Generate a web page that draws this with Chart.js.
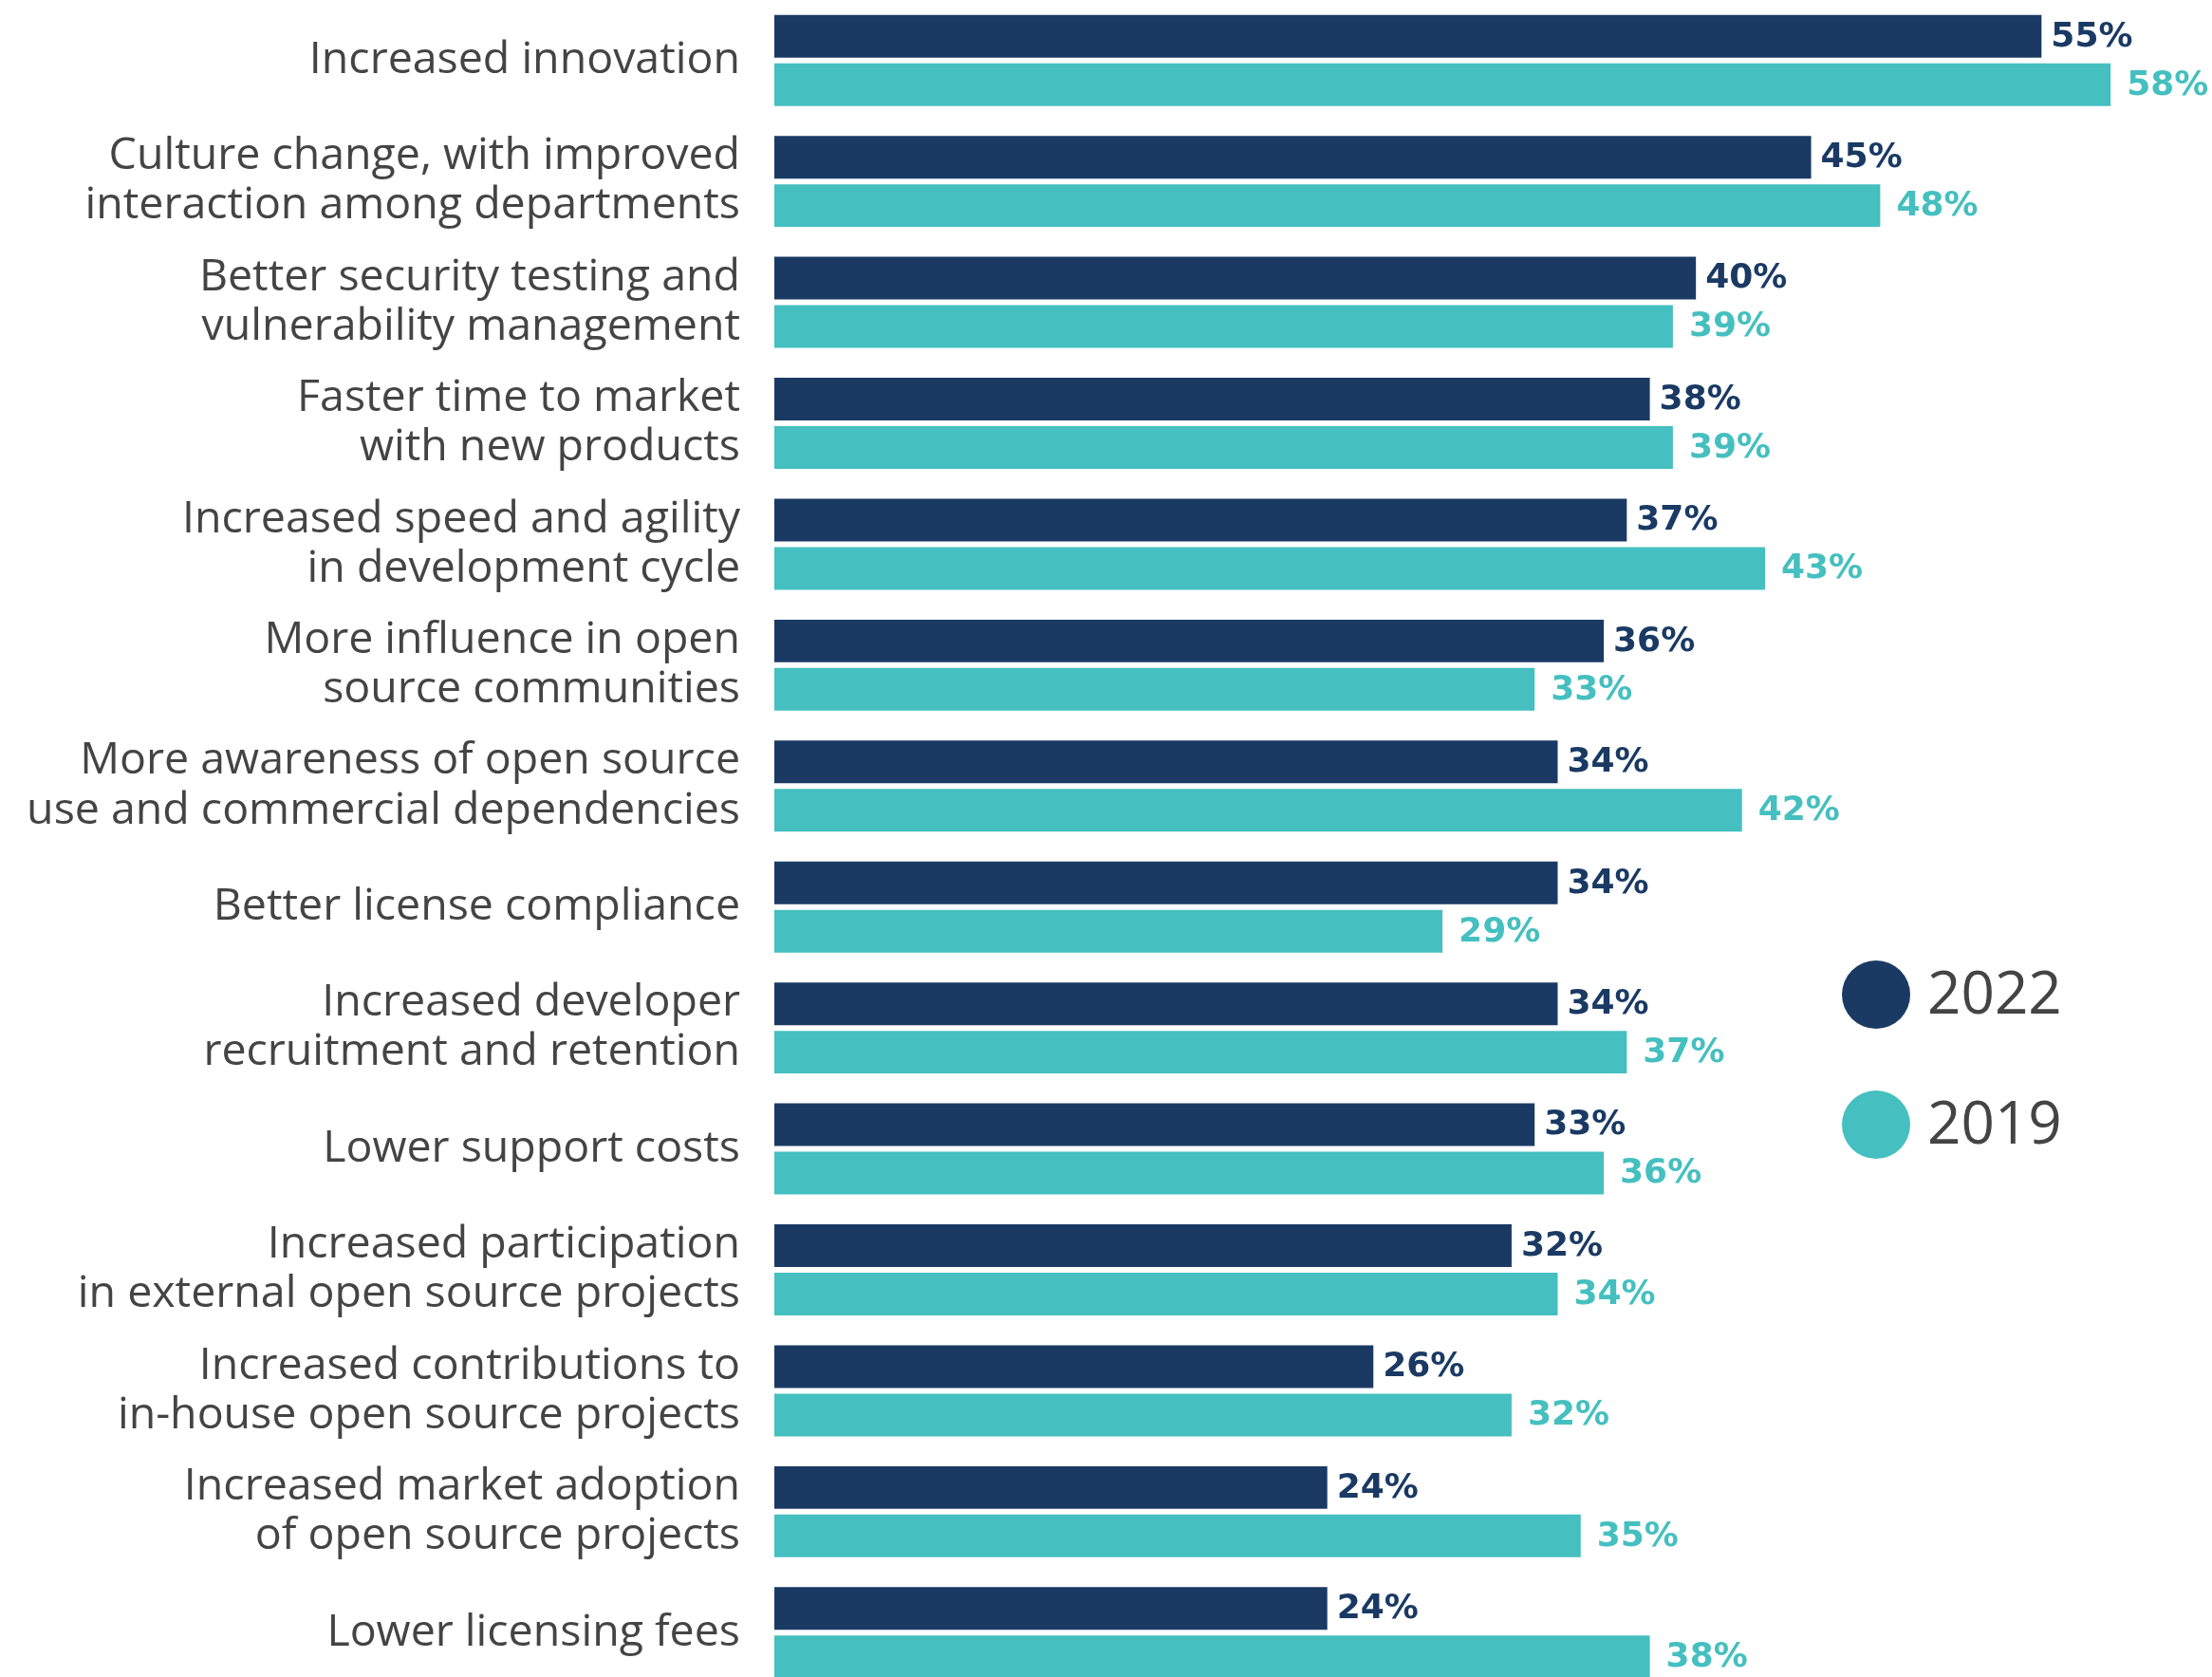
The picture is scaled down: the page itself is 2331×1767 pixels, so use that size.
<!DOCTYPE html>
<html>
<head>
<meta charset="utf-8">
<script src="https://cdn.jsdelivr.net/npm/chart.js"></script>
<style>
  html, body { margin: 0; padding: 0; background: #fff; overflow: hidden; }
  #wrap { width: 2331px; height: 1767px; overflow: hidden; }
</style>
</head>
<body>
<div id="wrap"><canvas id="myChart" width="2331" height="1784"></canvas></div>
<script>
const categories = [
  'Increased innovation',
  ['Culture change, with improved', 'interaction among departments'],
  ['Better security testing and', 'vulnerability management'],
  ['Faster time to market', 'with new products'],
  ['Increased speed and agility', 'in development cycle'],
  ['More influence in open', 'source communities'],
  ['More awareness of open source', 'use and commercial dependencies'],
  'Better license compliance',
  ['Increased developer', 'recruitment and retention'],
  'Lower support costs',
  ['Increased participation', 'in external open source projects'],
  ['Increased contributions to', 'in-house open source projects'],
  ['Increased market adoption', 'of open source projects'],
  'Lower licensing fees'
];
const values2022 = [55, 45, 40, 38, 37, 36, 34, 34, 34, 33, 32, 26, 24, 24];
const values2019 = [58, 48, 39, 39, 43, 33, 42, 29, 37, 36, 34, 32, 35, 38];
const seriesNames = ['2022', '2019'];
const colors = ['#1a3a64', '#45bfbf'];

// percent labels at the end of every bar
const valueLabels = {
  id: 'valueLabels',
  afterDatasetsDraw(chart) {
    const ctx = chart.ctx;
    ctx.save();
    ctx.font = 'bold 36px "DejaVu Sans"';
    ctx.textBaseline = 'middle';
    ctx.textAlign = 'left';
    chart.data.datasets.forEach((ds, i) => {
      const off = i === 0 ? 10 : 17;
      chart.getDatasetMeta(i).data.forEach((bar, j) => {
        ctx.fillStyle = ds.backgroundColor;
        ctx.fillText(ds.data[j] + '%', bar.x + off, bar.y + 1);
      });
    });
    ctx.restore();
  }
};

// legend: big dots with the year next to them
const dotLegend = {
  id: 'dotLegend',
  afterDraw(chart) {
    const ctx = chart.ctx;
    ctx.save();
    ctx.font = '62px "Open Sans"';
    ctx.textBaseline = 'middle';
    ctx.textAlign = 'left';
    chart.data.datasets.forEach((ds, i) => {
      const cy = 1048 + i * 137;
      ctx.fillStyle = ds.backgroundColor;
      ctx.beginPath();
      ctx.arc(1977, cy, 36, 0, Math.PI * 2);
      ctx.fill();
      ctx.fillStyle = '#444444';
      ctx.fillText(ds.label, 2031, cy + 2);
    });
    ctx.restore();
  }
};

new Chart(document.getElementById('myChart'), {
  type: 'bar',
  data: {
    labels: categories,
    datasets: [
      { label: seriesNames[0], data: values2022, backgroundColor: colors[0] },
      { label: seriesNames[1], data: values2019, backgroundColor: colors[1] }
    ]
  },
  options: {
    indexAxis: 'y',
    responsive: false,
    animation: false,
    devicePixelRatio: 1,
    categoryPercentage: 0.80,
    barPercentage: 0.882,
    layout: { padding: 0 },
    plugins: {
      legend: { display: false },
      tooltip: { enabled: false }
    },
    scales: {
      x: { display: false, min: 0, max: 62.4 },
      y: {
        grid: { display: false, drawTicks: false },
        border: { display: false },
        afterFit(scale) {
          scale.width = 816;
          scale.paddingTop = 0;
          scale.paddingBottom = 0;
        },
        ticks: {
          padding: 36,
          color: '#444444',
          font: { family: 'Open Sans', size: 46.5, lineHeight: 1.12 }
        }
      }
    }
  },
  plugins: [valueLabels, dotLegend]
});
</script>
</body>
</html>
